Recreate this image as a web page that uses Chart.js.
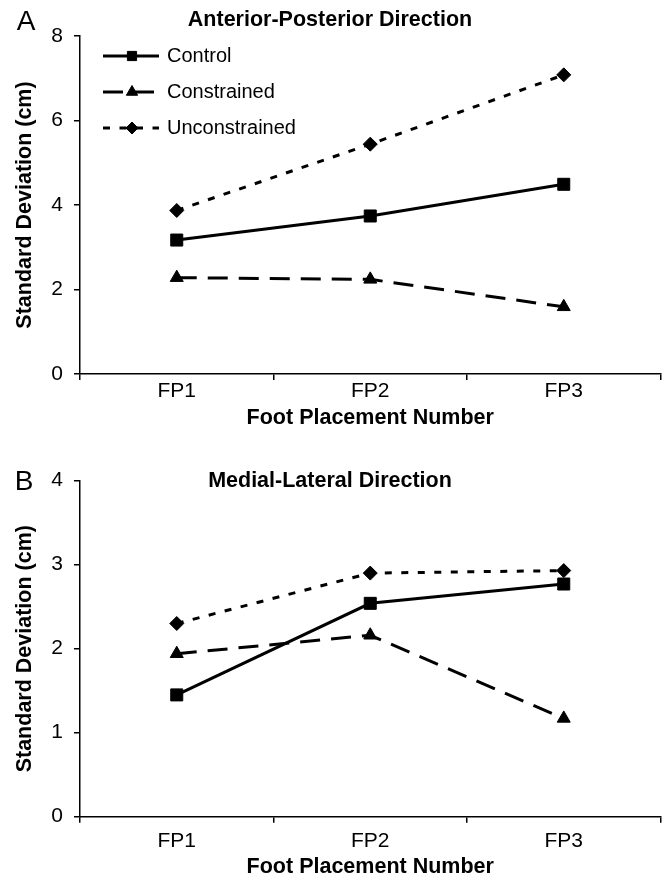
<!DOCTYPE html>
<html>
<head>
<meta charset="utf-8">
<script src="https://cdn.jsdelivr.net/npm/chart.js@4/dist/chart.umd.min.js"></script>
<style>
    html, body { margin: 0; padding: 0; background: #fff; }
    #wrap { position: relative; width: 670px; height: 878px; }
    canvas { position: absolute; left: 0; }
</style>
</head>
<body>
<div id="wrap">
    <canvas id="chartA" width="670" height="440" style="top:0px"></canvas>
    <canvas id="chartB" width="670" height="438" style="top:440px"></canvas>
</div>
<script>
// categories and series names
var categories  = ['FP1', 'FP2', 'FP3'];
var seriesNames = ['Control', 'Constrained', 'Unconstrained'];

// A - Anterior-Posterior Direction (cm)
var apControl       = [3.17, 3.74, 4.49];
var apConstrained   = [2.28, 2.24, 1.59];
var apUnconstrained = [3.87, 5.44, 7.08];
var apTicks         = [0, 2, 4, 6, 8];

// B - Medial-Lateral Direction (cm)
var mlControl       = [1.45, 2.54, 2.77];
var mlConstrained   = [1.94, 2.16, 1.17];
var mlUnconstrained = [2.30, 2.90, 2.93];
var mlTicks         = [0, 1, 2, 3, 4];

var FONT = '"Liberation Sans", Arial, Helvetica, sans-serif';

(function () {

    // series look: solid / long dash / dotted
    var styles = [
        { borderDash: [],       pointStyle: 'rect',     pointRadius: 8.5, legendRadius: 6.5 },
        { borderDash: [20, 11], pointStyle: 'triangle', pointRadius: 7.5, legendRadius: 6.5 },
        { borderDash: [7, 9.5], pointStyle: 'rectRot',  pointRadius: 7,   legendRadius: 6 }
    ];

    function buildDatasets(values) {
        return values.map(function (v, i) {
            var s = styles[i];
            return {
                label: seriesNames[i],
                data: v,
                borderColor: '#000',
                backgroundColor: '#000',
                borderWidth: 3,
                borderDash: s.borderDash,
                pointStyle: s.pointStyle,
                pointRadius: s.pointRadius,
                pointHoverRadius: s.pointRadius,
                pointBackgroundColor: '#000',
                pointBorderColor: '#000',
                pointBorderWidth: 1,
                legendRadius: s.legendRadius,
                tension: 0,
                fill: false
            };
        });
    }

    // panel letter + panel title
    var panelText = {
        id: 'panelText',
        afterDraw: function (chart, args, opts) {
            var ctx = chart.ctx;
            ctx.save();
            ctx.fillStyle = '#000';
            ctx.textBaseline = 'middle';
            ctx.textAlign = 'center';
            ctx.font = '28px ' + FONT;
            ctx.fillText(opts.letter, opts.letterX, opts.letterY);
            ctx.font = 'bold 21.5px ' + FONT;
            ctx.fillText(opts.title, opts.titleX, opts.titleY);
            ctx.restore();
        }
    };

    // legend drawn inside the plot, line sample + marker
    var insideLegend = {
        id: 'insideLegend',
        afterDraw: function (chart, args, opts) {
            if (!opts.show) return;
            var ctx = chart.ctx;
            chart.data.datasets.forEach(function (ds, i) {
                var y = opts.rows[i];
                ctx.save();
                ctx.strokeStyle = '#000';
                ctx.fillStyle = '#000';
                ctx.lineWidth = ds.borderWidth;
                ctx.setLineDash(ds.borderDash);
                ctx.beginPath();
                ctx.moveTo(opts.x0, y);
                ctx.lineTo(opts.x1, y);
                ctx.stroke();
                ctx.setLineDash([]);
                ctx.lineWidth = 1;
                Chart.helpers.drawPoint(ctx, {
                    pointStyle: ds.pointStyle,
                    radius: ds.legendRadius,
                    rotation: 0,
                    borderWidth: 1
                }, opts.markX, y);
                ctx.font = '20px ' + FONT;
                ctx.textBaseline = 'middle';
                ctx.textAlign = 'left';
                ctx.fillText(ds.label, opts.textX, y);
                ctx.restore();
            });
        }
    };

    function gerarGrafico(canvasId, values, yTicks, cfg) {
        var ctx = document.getElementById(canvasId).getContext('2d');
        return new Chart(ctx, {
            type: 'line',
            data: {
                labels: categories,
                datasets: buildDatasets(values)
            },
            plugins: [panelText, insideLegend],
            options: {
                responsive: false,
                animation: false,
                devicePixelRatio: 1,
                layout: { padding: { top: cfg.top, right: 6, bottom: 0, left: 0 } },
                plugins: {
                    legend: { display: false },
                    tooltip: { enabled: false },
                    panelText: cfg.text,
                    insideLegend: cfg.legend
                },
                scales: {
                    x: {
                        type: 'category',
                        offset: true,
                        afterFit: function (s) { s.height = cfg.xHeight; },
                        grid: { offset: true, drawOnChartArea: false, tickLength: 6, color: '#000', lineWidth: 1.5 },
                        border: { color: '#000', width: 1.5 },
                        ticks: { color: '#000', font: { family: FONT, size: 21 }, padding: cfg.xTickPad, maxRotation: 0 },
                        title: {
                            display: true,
                            text: 'Foot Placement Number',
                            color: '#000',
                            font: { family: FONT, size: 21.5, weight: 'bold', lineHeight: 1 },
                            padding: { top: 0, bottom: cfg.xTitlePad }
                        }
                    },
                    y: {
                        min: yTicks[0],
                        max: yTicks[yTicks.length - 1],
                        afterFit: function (s) { s.width = 80; },
                        afterBuildTicks: function (s) {
                            s.ticks = yTicks.map(function (v) { return { value: v }; });
                        },
                        grid: { drawOnChartArea: false, tickLength: 6, color: '#000', lineWidth: 1.5 },
                        border: { color: '#000', width: 1.5 },
                        ticks: { color: '#000', font: { family: FONT, size: 21 }, padding: 11 },
                        title: {
                            display: true,
                            text: 'Standard Deviation (cm)',
                            color: '#000',
                            font: { family: FONT, size: 21.5, weight: 'bold', lineHeight: 1 },
                            padding: { top: 14, bottom: 0 }
                        }
                    }
                }
            }
        });
    }

    gerarGrafico('chartA', [apControl, apConstrained, apUnconstrained], apTicks, {
        top: 36, xHeight: 66, xTickPad: -1, xTitlePad: 11,
        text: { letter: 'A', letterX: 26, letterY: 22, title: 'Anterior-Posterior Direction', titleX: 330, titleY: 20 },
        legend: { show: true, rows: [56, 92, 128], x0: 103, x1: 159, markX: 132, textX: 167 }
    });

    gerarGrafico('chartB', [mlControl, mlConstrained, mlUnconstrained], mlTicks, {
        top: 40.7, xHeight: 61.3, xTickPad: 6, xTitlePad: 0.5,
        text: { letter: 'B', letterX: 24, letterY: 42, title: 'Medial-Lateral Direction', titleX: 330, titleY: 41 },
        legend: { show: false }
    });

})();
</script>
</body>
</html>
